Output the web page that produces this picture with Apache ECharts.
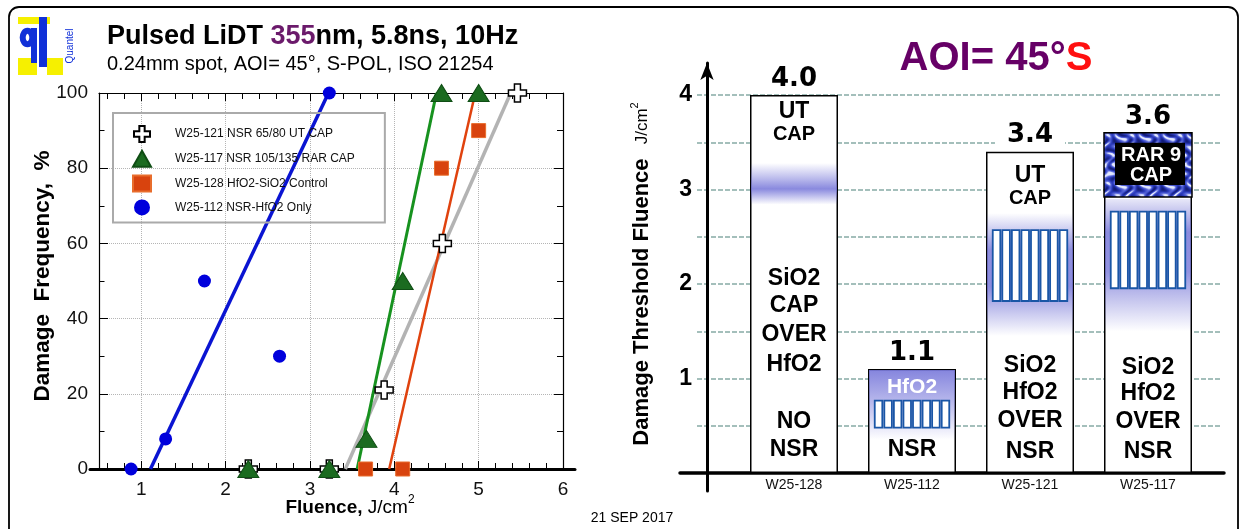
<!DOCTYPE html>
<html>
<head>
<meta charset="utf-8">
<title>Pulsed LiDT 355nm</title>
<script src="https://cdn.jsdelivr.net/npm/echarts@6/dist/echarts.min.js"></script>
<style>
  html, body { margin: 0; padding: 0; background: #fff; }
  #chart { width: 1241px; height: 529px; }
</style>
</head>
<body>
<div id="chart"></div>
<script>
// ---------- Left panel: damage frequency (%) versus fluence (J/cm2) ----------
const seriesNames = [
  'W25-121 NSR 65/80 UT CAP',
  'W25-117 NSR 105/135 RAR CAP',
  'W25-128 HfO2-SiO2 Control',
  'W25-112 NSR-HfO2 Only'
];
const w121Points = [[2.27, 0], [3.23, 0], [3.88, 21], [4.57, 60], [5.46, 100]];
const w117Points = [[2.27, 0], [3.23, 0], [3.67, 8], [4.10, 50], [4.56, 100], [5.00, 100]];
const w128Points = [[3.66, 0], [4.10, 0], [4.56, 80], [5.00, 90]];
const w112Points = [[0.88, 0], [1.29, 8], [1.75, 50], [2.64, 30], [3.23, 100]];
// straight-line fits, given by their end points
const w121Fit = [[3.42, 0], [5.38, 100]];
const w117Fit = [[3.56, 0], [4.50, 100]];
const w128Fit = [[3.94, 0], [4.96, 100]];
const w112Fit = [[1.11, 0], [3.22, 100]];

// ---------- Right panel: damage threshold per sample ----------
const samples = ['W25-128', 'W25-112', 'W25-121', 'W25-117'];
const thresholds = [4.0, 1.1, 3.4, 3.6];
const thresholdLabels = [1, 2, 3, 4];

const SANS = '"Liberation Sans", Arial, Helvetica, sans-serif';
const BAR_W = 88;

// Coating stack drawn inside each bar; levels are in J/cm2 on the bar axis.
const barDecor = [
  { // W25-128
    bands: [{ from: 3.28, to: 2.84, rgb: [108, 108, 214], stops: [[0, 0], [0.4, 0.5], [0.62, 0.8], [1, 0]] }],
    texts: [['UT', 3.82, 23], ['CAP', 3.58, 20], ['SiO2', 2.06, 23], ['CAP', 1.77, 23], ['OVER', 1.46, 23],
            ['HfO2', 1.15, 23], ['NO', 0.54, 23], ['NSR', 0.25, 23]]
  },
  { // W25-112
    bands: [{ from: 1.1, to: 0.35, rgb: [112, 112, 216], stops: [[0, 0.85], [0.45, 0.5], [1, 0]] }],
    stack: { from: 0.765, to: 0.48 },
    texts: [['HfO2', 0.91, 21, '#fff'], ['NSR', 0.25, 23]]
  },
  { // W25-121
    bands: [{ from: 2.75, to: 1.45, rgb: [100, 100, 210], stops: [[0, 0], [0.3, 0.72], [0.6, 0.75], [1, 0]] }],
    stack: { from: 2.57, to: 1.82 },
    texts: [['UT', 3.15, 23], ['CAP', 2.9, 20], ['SiO2', 1.135, 23], ['HfO2', 0.85, 23], ['OVER', 0.55, 23], ['NSR', 0.23, 23]]
  },
  { // W25-117
    cap: { to: 2.92, lines: [['RAR 9', 3.36], ['CAP', 3.15]] },
    bands: [{ from: 2.9, to: 1.5, rgb: [100, 100, 210], stops: [[0, 0.15], [0.25, 0.75], [0.55, 0.7], [1, 0]] }],
    stack: { from: 2.765, to: 1.955 },
    texts: [['SiO2', 1.12, 23], ['HfO2', 0.836, 23], ['OVER', 0.54, 23], ['NSR', 0.23, 23]]
  }
];

// fine blue marble texture for the RAR cap block (tileable, built from sines)
function marbleTexture() {
  const n = 48, c = document.createElement('canvas');
  c.width = n; c.height = n;
  const ctx = c.getContext('2d');
  const img = ctx.createImageData(n, n);
  const k = 2 * Math.PI / n;
  const navy = [18, 28, 120], mid = [44, 60, 190], light = [96, 110, 220], white = [226, 232, 255];
  const mix = (a, b, t) => a.map((v, i) => Math.round(v + (b[i] - v) * Math.max(0, Math.min(1, t))));
  for (let y = 0; y < n; y++) {
    for (let x = 0; x < n; x++) {
      const t = Math.sin(4 * k * x + 2.0 * Math.sin(3 * k * y) + 1.3 * Math.sin(2 * k * (x + y)));
      const u = Math.sin(5 * k * y + 1.5 * Math.sin(2 * k * x));
      const v = 0.6 * t + 0.4 * u;
      let col;
      if (v < -0.2) col = mix(navy, mid, (v + 1) / 0.8);
      else if (v < 0.45) col = mix(mid, light, (v + 0.2) / 0.65);
      else col = mix(light, white, (v - 0.45) / 0.45);
      const o = (y * n + x) * 4;
      img.data[o] = col[0]; img.data[o + 1] = col[1]; img.data[o + 2] = col[2]; img.data[o + 3] = 255;
    }
  }
  ctx.putImageData(img, 0, 0);
  return c;
}
const marble = marbleTexture();

function txt(text, x, y, size, color, weight) {
  return {
    type: 'text',
    style: {
      text: text, x: x, y: y,
      fill: color || '#000',
      font: (weight || 'bold') + ' ' + size + 'px ' + SANS,
      align: 'center', verticalAlign: 'middle',
      textAlign: 'center', textVerticalAlign: 'middle'
    }
  };
}

function renderDecor(params, api) {
  const i = api.value(0);
  const d = barDecor[i];
  const cx = api.coord([i, 0])[0];
  const yOf = v => api.coord([i, v])[1];
  const left = cx - BAR_W / 2;
  const topY = yOf(api.value(1));
  const kids = [];
  (d.bands || []).forEach(b => {
    const y1 = Math.max(yOf(b.from), topY + 1), y2 = yOf(b.to);
    const [r, g, bl] = b.rgb;
    kids.push({
      type: 'rect',
      shape: { x: left + 1, y: y1, width: BAR_W - 2, height: y2 - y1 },
      style: {
        fill: new echarts.graphic.LinearGradient(0, 0, 0, 1,
          b.stops.map(([o, a]) => ({ offset: o, color: 'rgba(' + r + ',' + g + ',' + bl + ',' + a + ')' })))
      }
    });
  });
  if (d.stack) {
    const y1 = yOf(d.stack.from), y2 = yOf(d.stack.to);
    const w = 76.5, pitch = w / 8, x0 = cx - w / 2;
    for (let j = 0; j < 8; j++) {
      kids.push({
        type: 'rect',
        shape: { x: x0 + j * pitch + 1, y: y1, width: pitch - 2, height: y2 - y1 },
        style: { fill: '#fff', stroke: '#1a56a6', lineWidth: 1.8 }
      });
    }
  }
  if (d.cap) {
    const y1 = topY, y2 = yOf(d.cap.to);
    kids.push({
      type: 'rect',
      shape: { x: left, y: y1, width: BAR_W, height: y2 - y1 },
      style: { fill: { image: marble, repeat: 'repeat' }, stroke: '#000', lineWidth: 1.5 }
    });
    kids.push({
      type: 'rect',
      shape: { x: left + 11, y: y1 + 10, width: BAR_W - 18, height: y2 - y1 - 22 },
      style: { fill: '#000' }
    });
    d.cap.lines.forEach(([t, v]) => kids.push(txt(t, cx + 3, yOf(v), 20, '#fff')));
  }
  d.texts.forEach(([t, v, s, c]) => kids.push(txt(t, cx, yOf(v), s, c)));
  return { type: 'group', children: kids };
}

function fitLine(points, color, width) {
  return {
    type: 'line', data: points, xAxisIndex: 0, yAxisIndex: 0,
    symbol: 'none', showSymbol: false, silent: true,
    lineStyle: { color: color, width: width }, z: 2
  };
}

const crossPath = 'path://M-1,-3L1,-3L1,-1L3,-1L3,1L1,1L1,3L-1,3L-1,1L-3,1L-3,-1L-1,-1Z';
const tickLine = { color: '#000', width: 1 };

const option = {
  animation: false,
  backgroundColor: '#fff',
  grid: [
    { left: 99, top: 93, width: 464, height: 376, outerBoundsMode: 'none' },   // scatter plot
    { left: 90, top: 93, width: 485, height: 376, outerBoundsMode: 'none' },   // its zero line
    { left: 697, top: 95, width: 525, height: 378, outerBoundsMode: 'none' },  // bar gridlines
    { left: 735, top: 95, width: 472, height: 378, outerBoundsMode: 'none' },  // bars
    { left: 680, top: 95, width: 544, height: 378, outerBoundsMode: 'none' },  // bar baseline
    { left: 707, top: 63, width: 10, height: 428, outerBoundsMode: 'none' }    // arrow axis
  ],
  xAxis: [
    {
      gridIndex: 0, type: 'value', min: 0.5, max: 6, splitNumber: 5, position: 'bottom',
      axisLine: { show: false, onZero: false },
      axisTick: { show: true, inside: true, length: 8, lineStyle: tickLine },
      minorTick: { show: true, splitNumber: 5, length: 6, lineStyle: tickLine },
      axisLabel: { showMinLabel: false, margin: 11, fontSize: 19, color: '#111', fontFamily: SANS },
      splitLine: { show: true, lineStyle: { type: 'dotted', color: '#b5b5b5', width: 1 } }
    },
    {
      gridIndex: 0, type: 'value', min: 0.5, max: 6, splitNumber: 5, position: 'top',
      axisLine: { show: true, onZero: false, lineStyle: { color: '#000', width: 1.2 } },
      axisTick: { show: true, inside: true, length: 8, lineStyle: tickLine },
      minorTick: { show: true, splitNumber: 5, length: 6, lineStyle: tickLine },
      axisLabel: { show: false }, splitLine: { show: false }
    },
    {
      gridIndex: 1, type: 'value', min: 0, max: 1,
      axisLine: { show: true, onZero: false, lineStyle: { color: '#000', width: 3 } },
      axisTick: { show: false }, axisLabel: { show: false }, splitLine: { show: false }
    },
    { gridIndex: 2, type: 'value', min: 0, max: 1, show: false },
    {
      gridIndex: 3, type: 'category', data: samples,
      axisLine: { show: false, onZero: false }, axisTick: { show: false },
      axisLabel: { margin: 5, fontSize: 14, color: '#111', fontFamily: SANS },
      splitLine: { show: false }
    },
    {
      gridIndex: 4, type: 'value', min: 0, max: 1,
      axisLine: { show: true, onZero: false, lineStyle: { color: '#000', width: 3.5 } },
      axisTick: { show: false }, axisLabel: { show: false }, splitLine: { show: false }
    },
    { gridIndex: 5, type: 'value', min: 0, max: 1, show: false }
  ],
  yAxis: [
    {
      gridIndex: 0, type: 'value', min: 0, max: 100, interval: 20, position: 'left',
      axisLine: { show: true, onZero: false, lineStyle: { color: '#000', width: 1.2 } },
      axisTick: { show: true, inside: true, length: 9, lineStyle: tickLine },
      minorTick: { show: true, splitNumber: 2, length: 5.5, lineStyle: tickLine },
      axisLabel: { margin: 11, fontSize: 19, color: '#111', fontFamily: SANS },
      splitLine: { show: true, lineStyle: { type: 'dotted', color: '#b5b5b5', width: 1 } }
    },
    {
      gridIndex: 0, type: 'value', min: 0, max: 100, interval: 20, position: 'right',
      axisLine: { show: true, onZero: false, lineStyle: { color: '#000', width: 1.2 } },
      axisTick: { show: true, inside: true, length: 9, lineStyle: tickLine },
      minorTick: { show: true, splitNumber: 2, length: 6, lineStyle: tickLine },
      axisLabel: { show: false }, splitLine: { show: false }
    },
    { gridIndex: 1, type: 'value', min: 0, max: 100, show: false },
    {
      gridIndex: 2, type: 'value', min: 0, max: 4, interval: 0.5,
      axisLine: { show: false, onZero: false }, axisTick: { show: false },
      axisLabel: {
        margin: 5, fontSize: 23, fontWeight: 'bold', color: '#000', fontFamily: SANS,
        formatter: v => (thresholdLabels.indexOf(v) >= 0 ? String(v) : '')
      },
      splitLine: { show: true, lineStyle: { type: [5, 2], color: '#86aaa5', width: 1.5 } }
    },
    { gridIndex: 3, type: 'value', min: 0, max: 4, show: false },
    { gridIndex: 4, type: 'value', min: 0, max: 4, show: false },
    {
      gridIndex: 5, type: 'value', min: 0, max: 1,
      axisLine: {
        show: true, onZero: false, symbol: ['none', 'arrow'], symbolSize: [10, 17],
        lineStyle: { color: '#000', width: 3 }
      },
      axisTick: { show: false }, axisLabel: { show: false }, splitLine: { show: false }
    }
  ],
  legend: {
    data: seriesNames,
    orient: 'vertical', left: 113, top: 113,
    padding: [12, 30, 7, 19],
    itemWidth: 18, itemHeight: 16, itemGap: 6.8,
    borderColor: '#aaa', borderWidth: 2,
    selectedMode: false,
    textStyle: { fontFamily: SANS, fontSize: 12, color: '#111', padding: [0, 0, 0, 19] }
  },
  graphic: [
    // frame
    { type: 'rect', shape: { x: 9, y: 7, width: 1229, height: 560, r: 10 },
      style: { fill: 'none', stroke: '#000', lineWidth: 1.8 }, silent: true },
    // logo
    { type: 'rect', shape: { x: 18, y: 17, width: 32, height: 7 }, style: { fill: '#f6f000' } },
    { type: 'rect', shape: { x: 18, y: 58, width: 19, height: 17 }, style: { fill: '#f6f000' } },
    { type: 'rect', shape: { x: 47, y: 58, width: 16, height: 17 }, style: { fill: '#f6f000' } },
    { type: 'ellipse', shape: { cx: 27.5, cy: 37.5, rx: 4.8, ry: 6.8 },
      style: { fill: 'none', stroke: '#1030d8', lineWidth: 6 } },
    { type: 'rect', shape: { x: 31, y: 28, width: 6, height: 35 }, style: { fill: '#1030d8' } },
    { type: 'rect', shape: { x: 39, y: 17, width: 8, height: 50 }, style: { fill: '#1030d8' } },
    { type: 'text', x: 70, y: 46, rotation: Math.PI / 2,
      style: { text: 'Quantel', fill: '#1030d8', font: '10px ' + SANS,
               align: 'center', verticalAlign: 'middle', textAlign: 'center', textVerticalAlign: 'middle' } },
    // left panel titles
    { type: 'text', x: 107, y: 37,
      style: {
        text: '{a|Pulsed LiDT }{p|355}{a|nm, 5.8ns, 10Hz}',
        align: 'left', verticalAlign: 'middle', textAlign: 'left', textVerticalAlign: 'middle',
        rich: {
          a: { fill: '#000', fontSize: 27, fontWeight: 'bold', fontFamily: SANS },
          p: { fill: '#6b1a6b', fontSize: 27, fontWeight: 'bold', fontFamily: SANS }
        }
      } },
    { type: 'text', x: 107, y: 64.5,
      style: { text: '0.24mm spot, AOI= 45°, S-POL, ISO 21254', fill: '#000', font: '20px ' + SANS,
               align: 'left', verticalAlign: 'middle', textAlign: 'left', textVerticalAlign: 'middle' } },
    { type: 'text', x: 43, y: 276, rotation: Math.PI / 2,
      style: { text: 'Damage  Frequency,  %', fill: '#000', font: 'bold 22.5px ' + SANS,
               align: 'center', verticalAlign: 'middle', textAlign: 'center', textVerticalAlign: 'middle' } },
    { type: 'text', x: 350, y: 508,
      style: {
        text: '{b|Fluence,}{r| J/cm}{s|2}',
        align: 'center', verticalAlign: 'middle', textAlign: 'center', textVerticalAlign: 'middle',
        rich: {
          b: { fill: '#000', fontSize: 19, fontWeight: 'bold', fontFamily: SANS, lineHeight: 28 },
          r: { fill: '#000', fontSize: 19, fontFamily: SANS, lineHeight: 28 },
          s: { fill: '#000', fontSize: 12, fontFamily: SANS, lineHeight: 12, verticalAlign: 'top' }
        }
      } },
    // right panel titles
    { type: 'text', x: 996, y: 59,
      style: {
        text: '{a|AOI= 45°}{s|S}',
        align: 'center', verticalAlign: 'middle', textAlign: 'center', textVerticalAlign: 'middle',
        rich: {
          a: { fill: '#660066', fontSize: 40, fontWeight: 'bold', fontFamily: SANS },
          s: { fill: '#ff1010', fontSize: 40, fontWeight: 'bold', fontFamily: SANS }
        }
      } },
    { type: 'text', x: 642, y: 274, rotation: Math.PI / 2,
      style: {
        text: '{b|Damage Threshold Fluence}{r|   J/cm}{s|2}',
        align: 'center', verticalAlign: 'middle', textAlign: 'center', textVerticalAlign: 'middle',
        rich: {
          b: { fill: '#000', fontSize: 22, fontWeight: 'bold', fontFamily: SANS, lineHeight: 26 },
          r: { fill: '#000', fontSize: 17, fontFamily: SANS, lineHeight: 26 },
          s: { fill: '#000', fontSize: 11, fontFamily: SANS, lineHeight: 12, verticalAlign: 'top' }
        }
      } },
    // date
    { type: 'text', x: 632, y: 518,
      style: { text: '21 SEP 2017', fill: '#000', font: '14px ' + SANS,
               align: 'center', verticalAlign: 'middle', textAlign: 'center', textVerticalAlign: 'middle' } }
  ],
  series: [
    fitLine(w112Fit, '#0a14d2', 3.5),
    fitLine(w121Fit, '#b3b3b3', 3.5),
    fitLine(w117Fit, '#17921f', 3),
    fitLine(w128Fit, '#e0420e', 2.5),
    {
      type: 'scatter', name: seriesNames[0], data: w121Points, xAxisIndex: 0, yAxisIndex: 0,
      symbol: crossPath, symbolSize: 18, z: 3,
      itemStyle: { color: '#fff', borderColor: '#000', borderWidth: 1.5, opacity: 1 }
    },
    {
      type: 'scatter', name: seriesNames[1], data: w117Points, xAxisIndex: 0, yAxisIndex: 0,
      symbol: 'triangle', symbolSize: [21, 17], z: 3,
      itemStyle: { color: '#1b6b20', borderColor: '#0f4d14', borderWidth: 1, opacity: 1 }
    },
    {
      type: 'scatter', name: seriesNames[2], data: w128Points, xAxisIndex: 0, yAxisIndex: 0,
      symbol: 'rect', symbolSize: 14, z: 3,
      itemStyle: { color: '#d8430e', borderColor: '#e86d2c', borderWidth: 1, opacity: 1 }
    },
    {
      type: 'scatter', name: seriesNames[3], data: w112Points, xAxisIndex: 0, yAxisIndex: 0,
      symbol: 'circle', symbolSize: 13, z: 3,
      itemStyle: { color: '#0000dc', opacity: 1 }
    },
    {
      type: 'bar', name: 'threshold', data: thresholds, xAxisIndex: 4, yAxisIndex: 4,
      barWidth: BAR_W, silent: true, z: 2,
      itemStyle: { color: '#fff', borderColor: '#000', borderWidth: 1.5 },
      label: {
        show: true, position: 'top', distance: 2,
        formatter: p => p.value.toFixed(1),
        fontFamily: '"DejaVu Sans", sans-serif', fontWeight: 'bold', fontSize: 26, color: '#000',
        backgroundColor: '#fff', padding: [6, 12, 1, 12]
      }
    },
    {
      type: 'custom', name: 'stack', xAxisIndex: 4, yAxisIndex: 4, silent: true, z: 3,
      data: samples.map((s, i) => [i, thresholds[i]]),
      renderItem: renderDecor
    }
  ]
};

const chart = echarts.init(document.getElementById('chart'), null, { renderer: 'canvas' });
chart.setOption(option);
</script>
</body>
</html>
